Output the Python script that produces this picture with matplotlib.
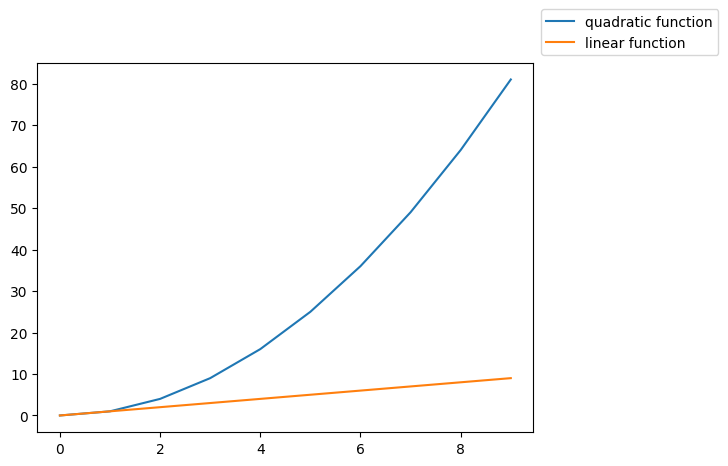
import matplotlib
matplotlib.use("Agg")
import matplotlib.pyplot as plt

x = [0, 1, 2, 3, 4, 5, 6, 7, 8, 9]
quadratic = [0, 1, 4, 9, 16, 25, 36, 49, 64, 81]
linear = [0, 1, 2, 3, 4, 5, 6, 7, 8, 9]

fig, ax = plt.subplots(figsize=(6.4, 4.8), dpi=100)
ax.plot(x, quadratic, label="quadratic function")
ax.plot(x, linear, label="linear function")
fig.legend(loc="upper right", bbox_to_anchor=(1.2, 1.006))
fig.savefig("out.png", bbox_inches="tight")
